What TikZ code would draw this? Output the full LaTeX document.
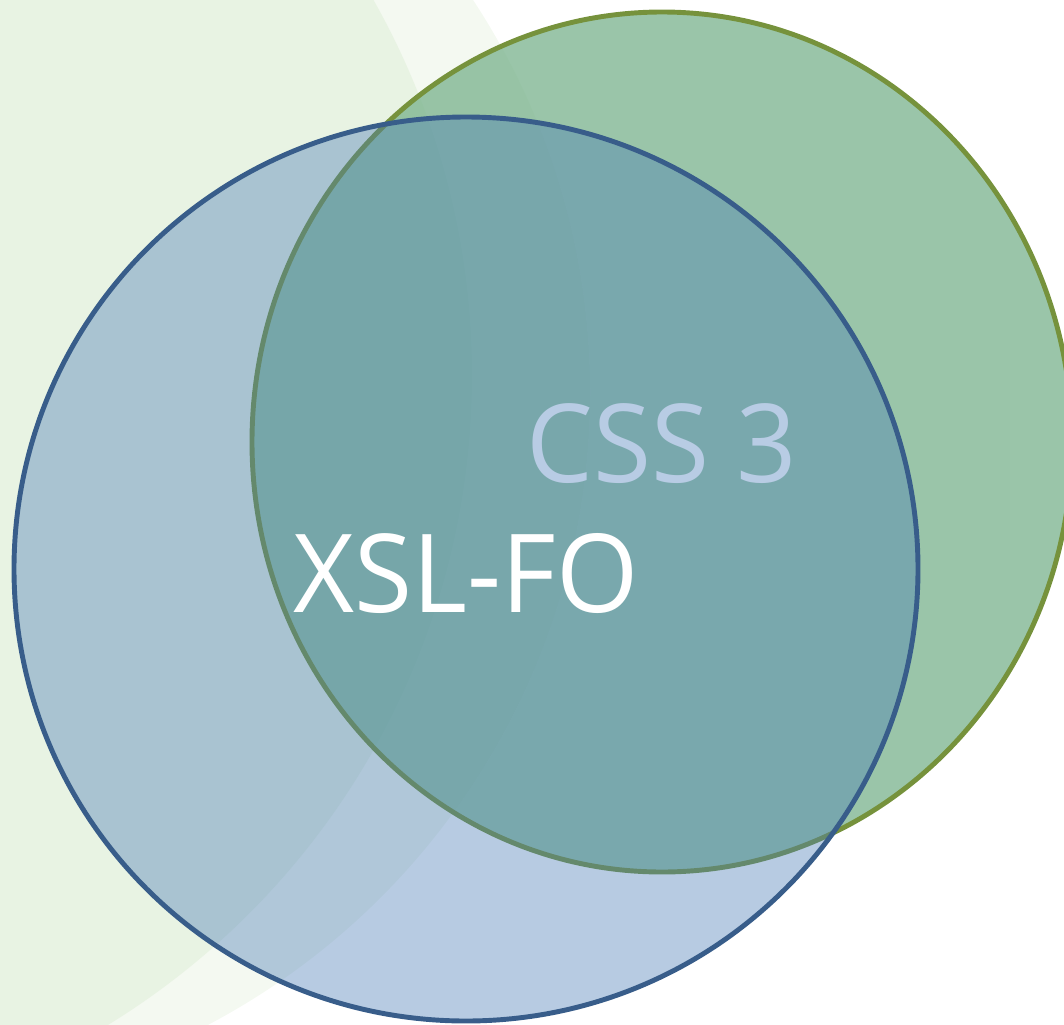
\documentclass[tikz,border=0pt]{standalone}
\usepackage{fontspec}
\setmainfont{Open Sans}[FakeStretch=0.97]
\definecolor{palegreenA}{RGB}{232,243,227}
\definecolor{palegreenB}{RGB}{244,249,241}
\definecolor{cssfill}{RGB}{120,178,140}
\definecolor{cssline}{RGB}{118,146,60}
\definecolor{xslfill}{RGB}{75,125,182}
\definecolor{xslline}{RGB}{56,93,138}
\definecolor{csstext}{RGB}{184,204,228}
\tikzset{
	setlabel/.style={font=\fontsize{31}{37}\selectfont, inner sep=0pt, anchor=center}
}
\begin{document}
\begin{tikzpicture}[x=0.01cm, y=-0.01cm]
	\useasboundingbox (0,0) rectangle (1064,1024);
	\begin{scope}
		\clip (0,0) rectangle (1064,1024);
		% pale background rings
		\fill[palegreenB] (-125,392) circle (715);
		\fill[palegreenA] (-290,375) circle (762);
		% the two sets
		\draw[fill=cssfill,
			  fill opacity=0.75,
			  draw=cssline,
			  line width=1.4pt] (662,442) ellipse (410 and 430);
		\draw[fill=xslfill,
			  fill opacity=0.4,
			  draw=xslline,
			  line width=1.4pt] (466,569) circle (452);
	\end{scope}
	
	\draw (662,444) node[setlabel, text=csstext](css){CSS 3};
	\draw (466,573) node[setlabel, text=white](xsl){XSL-FO};
\end{tikzpicture}
\end{document}
